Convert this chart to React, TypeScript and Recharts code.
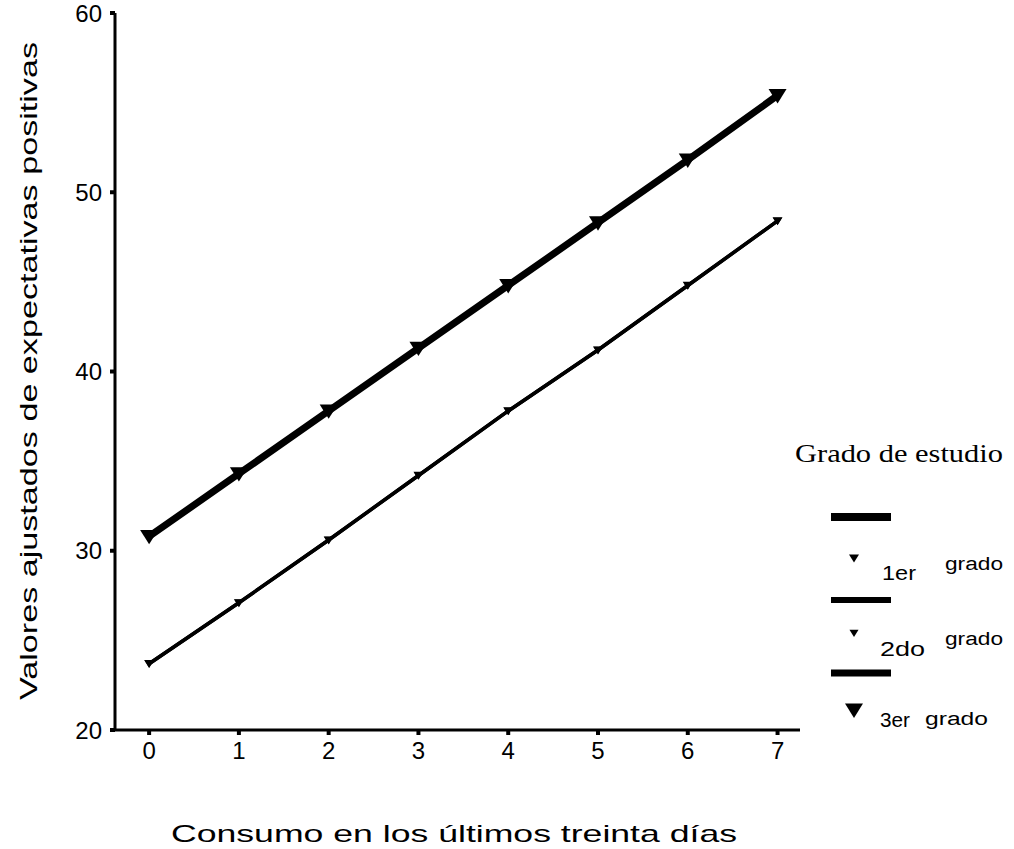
import React from 'react';
import { LineChart, Line, XAxis, YAxis, Legend } from 'recharts';

const consumo = [0, 1, 2, 3, 4, 5, 6, 7];
const grado1 = [23.7, 27.1, 30.6, 34.2, 37.8, 41.2, 44.8, 48.4];
const grado2 = [23.7, 27.1, 30.6, 34.2, 37.8, 41.2, 44.8, 48.4];
const grado3 = [30.8, 34.3, 37.8, 41.3, 44.8, 48.3, 51.8, 55.4];
const xTicks = [0, 1, 2, 3, 4, 5, 6, 7];
const yTicks = [20, 30, 40, 50, 60];
const seriesNames = ['1er grado', '2do grado', '3er grado'];

const data = consumo.map((c, i) => ({ c, g1: grado1[i], g2: grado2[i], g3: grado3[i] }));

const tri = (size: number) => (props: any) => {
  const { cx, cy } = props;
  if (cx == null || cy == null) return <g />;
  const w = size;
  const h = size * 1.6;
  return (
    <path
      d={`M${cx - w},${cy - h * 0.45} L${cx + w},${cy - h * 0.45} L${cx},${cy + h * 0.55} Z`}
      fill="#000"
    />
  );
};

const font = '"Liberation Sans", Arial, sans-serif';
const serif = '"Liberation Serif", "Times New Roman", serif';

const LegendContent = (props: any) => {
  const payload = props.payload || [];
  const rows = [
    { bar: 97, bw: 8, tri: 138, ts: 5, n: 160, nx: 92, nl: 34, g: 150, gx: 155, gl: 58 },
    { bar: 180, bw: 6, tri: 213, ts: 4.5, n: 236, nx: 90, nl: 45, g: 225, gx: 155, gl: 58 },
    { bar: 253, bw: 7, tri: 290, ts: 9, n: 307, nx: 90, nl: 30, g: 305, gx: 135, gl: 63 },
  ];
  return (
    <svg width={224} height={330} style={{ overflow: 'visible', position: 'absolute', left: 0, top: 0 }}>
      <text x={5} y={42} fontFamily={serif} fontSize={26} fill="#000" textLength={208} lengthAdjust="spacingAndGlyphs">
        Grado de estudio
      </text>
      {payload.map((p: any, i: number) => {
        const r = rows[i];
        const parts = String(p.value).split(' ');
        const cx = 64;
        const w = r.ts;
        const h = r.ts * 1.6;
        return (
          <g key={i}>
            <rect x={41} y={r.bar - r.bw / 2} width={60} height={r.bw} fill="#000" />
            <path d={`M${cx - w},${r.tri - h * 0.45} L${cx + w},${r.tri - h * 0.45} L${cx},${r.tri + h * 0.55} Z`} fill="#000" />
            <text x={r.nx} y={r.n} fontFamily={font} fontSize={21} fill="#000" textLength={r.nl} lengthAdjust="spacingAndGlyphs">{parts[0]}</text>
            <text x={r.gx} y={r.g} fontFamily={font} fontSize={18} fill="#000" textLength={r.gl} lengthAdjust="spacingAndGlyphs">{parts[1]}</text>
          </g>
        );
      })}
    </svg>
  );
};

export default function App() {
  return (
    <div style={{ position: 'absolute', left: 0, top: 0, width: 1014, height: 849, background: '#fff' }}>
      <LineChart
        width={1014}
        height={849}
        data={data}
        margin={{ top: 13, right: 214, bottom: 89, left: 65 }}
      >
        <XAxis
          dataKey="c"
          type="number"
          domain={[-0.38, 7.25]}
          ticks={xTicks}
          allowDataOverflow
          height={30}
          stroke="#000"
          axisLine={{ stroke: '#000', strokeWidth: 3 }}
          tickLine={{ stroke: '#000', strokeWidth: 4 }}
          tickSize={5}
          tickMargin={7}
          tick={{ fill: '#000', fontSize: 24, fontFamily: font }}
        />
        <YAxis
          type="number"
          domain={[20, 60]}
          ticks={yTicks}
          width={50}
          stroke="#000"
          axisLine={{ stroke: '#000', strokeWidth: 3 }}
          tickLine={{ stroke: '#000', strokeWidth: 4 }}
          tickSize={5}
          tickMargin={8}
          tick={{ fill: '#000', fontSize: 24, fontFamily: font }}
        />
        <Line dataKey="g1" name={seriesNames[0]} stroke="#000" strokeWidth={3.5} dot={tri(5)} isAnimationActive={false} />
        <Line dataKey="g2" name={seriesNames[1]} stroke="#000" strokeWidth={3.5} dot={tri(4.5)} isAnimationActive={false} />
        <Line dataKey="g3" name={seriesNames[2]} stroke="#000" strokeWidth={7} dot={tri(9)} isAnimationActive={false} />
        <Legend
          content={<LegendContent />}
          wrapperStyle={{ position: 'absolute', left: 790, top: 420, width: 0, height: 0, overflow: 'visible' }}
        />
      </LineChart>
      <svg width={1014} height={849} style={{ position: 'absolute', left: 0, top: 0, pointerEvents: 'none' }}>
        <text x={171} y={842} fontFamily={font} fontSize={24} fill="#000" textLength={566} lengthAdjust="spacingAndGlyphs">
          Consumo en los últimos treinta días
        </text>
        <text
          x={0}
          y={0}
          transform="translate(37, 700) rotate(-90)"
          fontFamily={font}
          fontSize={24}
          fill="#000"
          textLength={658}
          lengthAdjust="spacingAndGlyphs"
        >
          Valores ajustados de expectativas positivas
        </text>
      </svg>
    </div>
  );
}
